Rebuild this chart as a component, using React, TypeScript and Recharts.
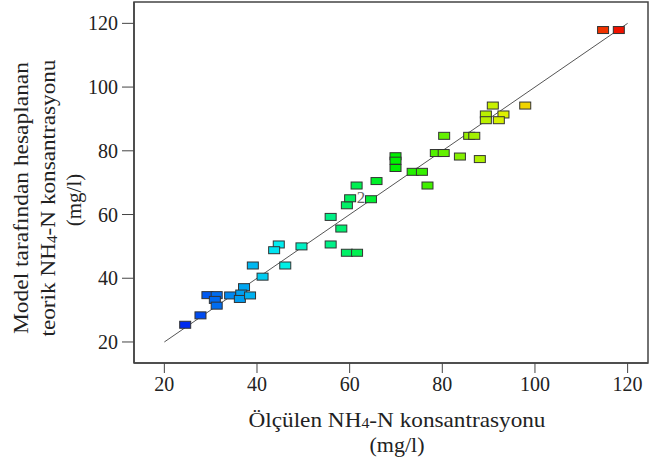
import {
  ScatterChart,
  Scatter,
  XAxis,
  YAxis,
  ReferenceLine,
  ReferenceArea,
  ReferenceDot,
  Label,
} from "recharts";

// measured (Ölçülen) vs model-predicted NH4-N, mg/l
const measured = [
  24.5, 27.8, 29.3, 31.3, 30.9, 31.3, 34.2, 37.2, 36.6, 36.3, 38.5, 39.1, 41.2,
  44.7, 43.7, 46.1, 49.6, 55.9, 55.9, 58.2, 59.4, 61.6, 59.4, 60.1, 61.5, 64.6,
  65.8, 69.9, 69.9, 69.9, 73.6, 75.6, 76.8, 78.6, 80.3, 80.4, 83.8, 88.1, 85.8,
  86.9, 89.4, 89.4, 90.9, 93.2, 92.2, 97.9, 114.7, 118.1,
];
const predicted = [
  25.4, 28.35, 34.7, 34.7, 33.2, 31.4, 34.6, 37.2, 35.2, 33.5, 34.6, 44.0, 40.5,
  50.6, 48.8, 44.0, 50.0, 59.25, 50.6, 55.6, 48.0, 48.0, 62.9, 65.1, 69.1, 64.8,
  70.5, 78.3, 76.9, 74.6, 73.4, 73.4, 69.1, 79.3, 79.3, 84.7, 78.2, 77.4, 84.7,
  84.7, 91.4, 89.6, 94.2, 91.4, 89.6, 94.2, 117.9, 117.9,
];
const ticks = [20, 40, 60, 80, 100, 120];

const data = measured.map((x, i) => ({ x, y: predicted[i] }));

const FONT = "Liberation Serif";
const AXIS = "#444";

// blue -> red ramp over the measured value
const colorFor = (v: number) => {
  const h = Math.max(0, Math.min(240, 240 - 2.4 * (v - 20)));
  return `hsl(${h}, 100%, 47%)`;
};

const Box = (props: any) => {
  const { cx, cy, payload } = props;
  return (
    <rect
      x={cx - 5.5}
      y={cy - 3.5}
      width={11}
      height={7}
      fill={colorFor(payload.x)}
      stroke="#333"
      strokeWidth={1}
    />
  );
};

const YTitle = () => {
  const cy = 198;
  const rot = (x: number) => `rotate(-90 ${x} ${cy})`;
  return (
    <g fontFamily={FONT} fontSize={21} fill="#222">
      <text x={21} y={cy} textAnchor="middle" dominantBaseline="central" transform={rot(21)} textLength={272} lengthAdjust="spacingAndGlyphs">
        Model tarafından hesaplanan
      </text>
      <text x={48} y={cy} textAnchor="middle" dominantBaseline="central" transform={rot(48)} textLength={277} lengthAdjust="spacingAndGlyphs">
        teorik NH<tspan fontSize={14} dy={4}>4</tspan>
        <tspan dy={-4}>-N konsantrasyonu</tspan>
      </text>
      <text x={74} y={200} textAnchor="middle" dominantBaseline="central" transform={`rotate(-90 74 200)`}>
        (mg/l)
      </text>
    </g>
  );
};

const XTitle = () => {
  const cx = 397;
  return (
    <g fontFamily={FONT} fontSize={22} fill="#222">
      <text x={cx} y={419} textAnchor="middle" dominantBaseline="central" textLength={297} lengthAdjust="spacingAndGlyphs">
        Ölçülen NH<tspan fontSize={15} dy={4}>4</tspan>
        <tspan dy={-4}>-N konsantrasyonu</tspan>
      </text>
      <text x={cx} y={444} textAnchor="middle" dominantBaseline="central">
        (mg/l)
      </text>
    </g>
  );
};

export default function App() {
  const tickStyle = { fontFamily: FONT, fontSize: 20, fill: "#222" };
  return (
    <div style={{ position: "absolute", left: 0, top: 0, background: "#fff", fontFamily: FONT }}>
      <ScatterChart
        width={651}
        height={463}
        margin={{ top: 2, right: 3, left: 0, bottom: 0 }}
      >
        <XAxis
          type="number"
          dataKey="x"
          domain={[13.45, 124.4]}
          ticks={ticks}
          height={100}
          tick={tickStyle}
          tickSize={10}
          tickMargin={4}
          stroke={AXIS}
          axisLine={{ stroke: AXIS, strokeWidth: 1.5 }}
          allowDataOverflow
        >
          <Label content={<XTitle />} />
        </XAxis>
        <YAxis
          type="number"
          dataKey="y"
          domain={[13.4, 126.7]}
          ticks={ticks}
          width={134}
          tick={tickStyle}
          tickSize={12}
          tickMargin={4}
          stroke={AXIS}
          axisLine={{ stroke: AXIS, strokeWidth: 1.5 }}
          allowDataOverflow
        >
          <Label content={<YTitle />} />
        </YAxis>
        <ReferenceArea
          x1={13.45}
          x2={124.4}
          y1={13.4}
          y2={126.7}
          fill="none"
          stroke={AXIS}
          strokeWidth={1.5}
          fillOpacity={0}
          ifOverflow="visible"
        />
        <ReferenceLine
          segment={[
            { x: 20, y: 20 },
            { x: 120, y: 120 },
          ]}
          stroke="#555"
          strokeWidth={1}
          ifOverflow="visible"
        />
        <Scatter data={data} shape={<Box />} isAnimationActive={false} />
        <ReferenceDot
          x={62.45}
          y={65.6}
          r={0}
          fill="none"
          stroke="none"
          label={{ value: "2", position: "center", fill: "#666", fontSize: 17, fontFamily: FONT }}
        />
      </ScatterChart>
    </div>
  );
}
